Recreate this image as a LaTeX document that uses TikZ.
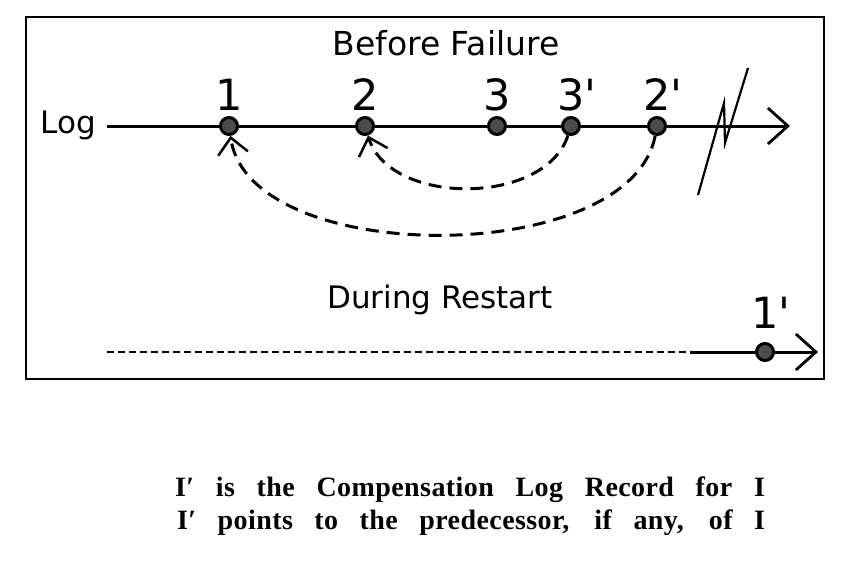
\documentclass[tikz,border=0pt]{standalone}
\usepackage{fontspec}
\setmainfont[LetterSpace=1.5]{Liberation Serif}
\newfontfamily\plotfont{DejaVu Sans}
\usetikzlibrary{arrows.meta}
\begin{document}
\begin{tikzpicture}
  [x=1pt,y=-1pt,every node/.style={font=\plotfont\fontsize{31}{36}\selectfont,anchor=base}]
  \tikzstyle{rec} = [circle,draw=black,fill=black!70,line width=3pt,minimum size=17pt,inner sep=0pt,anchor=center]
  \tikzstyle{num} = [font=\plotfont\fontsize{43}{48}\selectfont,inner sep=0pt]
  \tikzstyle{clr} = [line width=3pt,dash pattern=on 13pt off 8pt,-{Straight Barb[length=16pt,width=30pt,line width=2.5pt]}]
  \tikzstyle{logline} = [line width=3pt,-{Straight Barb[length=20pt,width=36pt,line width=2.8pt]}]
  \tikzstyle{note} = [font=\bfseries\fontsize{28}{32}\selectfont,inner sep=0pt]
  \useasboundingbox (0,0) rectangle (854,562);
  \draw[line width=2pt] (26,17) rectangle (824,379);
  \node[font=\plotfont\fontsize{33}{38}\selectfont] (before) at (446,55) {Before Failure};
  \node (during) at (440,308) {During Restart};
  \node (log) at (68,133) {Log};
  \coordinate (logstart) at (107,126);
  \coordinate (logend) at (790,126);
  \draw[logline] (logstart) -- (logend);
  \draw[line width=2.2pt] (698,195) -- (724,103) -- (725,143) -- (748,68);
  \foreach \name /\xpos /\lab in {n1/229/1,n2/365/2,n3/497/3,n3p/571/{3\rlap{'}},n2p/657/{2\rlap{'}}} {
    \node[rec] (\name) at (\xpos,126) {};
    \node[num] (l\name) at (\xpos,110) {\lab};
  }
  \draw[clr] (n3p) .. controls (545,206) and (390,206) .. (n2);
  \draw[clr] (n2p) .. controls (630,268) and (250,268) .. (n1);
  % restart
  \coordinate (rstart) at (107,352);
  \coordinate (rmid) at (690,352);
  \coordinate (rend) at (818,352);
  \draw[line width=1.5pt,dash pattern=on 7pt off 4pt] (rstart) -- (rmid);
  \draw[logline] (rmid) -- (rend);
  \node[rec] (n1p) at (765,352) {};
  \node[num] (ln1p) at (765,328) {1\rlap{'}};
  \node[note] (note1) at (470,496) {\makebox[590pt][s]{I′ is the Compensation Log Record for I}};
  \node[note] (note2) at (471,529) {\makebox[588pt][s]{I′ points to the predecessor, if any, of I}};
\end{tikzpicture}
\end{document}
